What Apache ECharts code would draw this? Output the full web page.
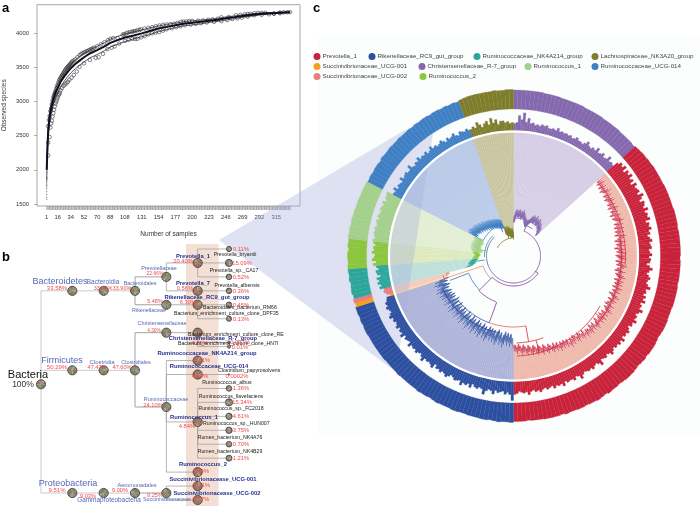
<!DOCTYPE html>
<html><head><meta charset="utf-8">
<style>html,body{margin:0;padding:0;background:#fff}#c{width:700px;height:506px}</style>
<script src="https://cdn.jsdelivr.net/npm/echarts@6/dist/echarts.min.js"></script>
</head><body><div id="c"></div>
<script>
// ---------- panel a : rarefaction curve ----------
const curveSamples=[1,2,3,4,5,6,8,10,13,16,20,25,30,34,40,46,52,60,70,80,88,98,108,120,131,142,154,165,177,188,200,212,223,235,246,258,269,280,292,304,315,325,334];
const curveMedian=[2000,2330,2560,2690,2780,2850,2950,3030,3130,3200,3290,3370,3440,3490,3550,3600,3650,3705,3755,3810,3860,3900,3940,3970,4000,4035,4070,4095,4120,4140,4155,4170,4185,4200,4220,4238,4255,4270,4285,4295,4300,4305,4310];
const curveUpper=[2150,2420,2640,2760,2840,2920,3010,3100,3190,3260,3350,3430,3500,3550,3610,3660,3710,3760,3810,3865,3915,3955,3990,4025,4050,4080,4110,4130,4150,4170,4185,4195,4205,4220,4240,4255,4272,4285,4298,4305,4308,4312,4315];
const curveLower=[1850,2240,2470,2610,2710,2780,2880,2960,3060,3130,3220,3300,3370,3420,3480,3530,3580,3640,3690,3745,3800,3840,3880,3920,3950,3985,4025,4055,4085,4110,4125,4140,4160,4175,4195,4215,4235,4250,4270,4280,4290,4298,4305];
const upperCircles=[[3,2640],[4,2730],[5,2790],[6,2860],[7,2900],[8,2960],[9,3010],[10,3060],[11,3090],[12,3120],[13,3150],[14,3190],[15,3220],[16,3250],[17,3280],[18,3310],[19,3330],[20,3350],[21,3370],[22,3385],[23,3400],[24,3420],[25,3440],[26,3455],[27,3470],[28,3490],[29,3500],[30,3510],[31,3525],[32,3535],[33,3550],[34,3560],[35,3575],[36,3590],[38,3600],[40,3620],[43,3650],[46,3680],[48,3695],[50,3710],[52,3720],[54,3730],[56,3740],[58,3750],[60,3760],[62,3770],[64,3780],[66,3790],[70,3810],[75,3840],[80,3870],[85,3900],[88,3920],[92,3930],[98,3930],[105,3980],[107,3990],[110,4000],[112,4010],[115,4020],[118,4025],[120,4030],[122,4035],[125,4045],[128,4050],[130,4060],[135,4070],[140,4080],[145,4090],[150,4105],[155,4115],[160,4125],[165,4130],[170,4135],[175,4140],[180,4155],[185,4170],[188,4172],[192,4175],[196,4180],[200,4185],[208,4185],[215,4190],[222,4200],[228,4205],[235,4215],[240,4235],[250,4240],[260,4265],[266,4270],[272,4280],[276,4282],[280,4285],[285,4295],[290,4300],[295,4300],[300,4300],[312,4290],[320,4305],[325,4308],[330,4310],[334,4312]];
const lowerCircles=[[3,2210],[3,2400],[5,2480],[6,2620],[7,2680],[8,2720],[9,2780],[10,2830],[11,2880],[12,2930],[13,2970],[14,3000],[15,3030],[16,3060],[17,3090],[18,3110],[19,3130],[20,3165],[22,3200],[24,3230],[26,3250],[28,3270],[30,3290],[32,3320],[35,3350],[38,3390],[42,3440],[46,3510],[52,3560],[60,3610],[68,3640],[72,3650],[78,3700],[84,3770],[90,3790],[94,3810],[100,3850],[108,3890],[113,3905],[118,3920],[122,3918],[125,3920],[130,3940],[135,3960],[140,3985],[145,4000],[150,4010],[155,4020],[160,4040],[165,4060],[172,4075],[178,4090],[184,4105],[190,4120],[198,4130],[205,4140],[212,4150],[220,4160],[230,4170],[240,4180],[248,4195],[255,4210],[262,4220],[268,4230],[276,4245],[285,4265],[295,4272],[305,4280],[312,4288],[320,4295]];
const firstSampleDots=[[1,1570],[1,1600],[1,1640],[1,1680],[1,1720],[1,1750],[1,1770],[1,1790],[1,1810],[1,1830],[1,1850],[1,1870],[1,1890],[1,1960],[1,2010],[1,2100],[1,2120],[1,2140],[1,2160],[1,2180]];
const xTickLabels=[1,16,34,52,70,88,108,131,154,177,200,223,246,269,292,315];
const yTickLabels=[1500,2000,2500,3000,3500,4000];
const rugSamples=Array.from({length:334},(_,i)=>i+1);

// ---------- panel b : taxonomy tree ----------
const nodeNames=['Bacteria','Bacteroidetes','Bacteroidia','Bacteroidales','Prevotellaceae','Rikenellaceae','Prevotella_1','Prevotella_7','Rikenellaceae_RC9','sp1','sp2','sp3','sp4','sp5','sp6','Firmicutes','Clostridia','Clostridiales','Christensenellaceae','Ruminococcaceae','Christensenellaceae_R-7','sp7','sp8','NK4A214','UCG-014','sp9','Ruminococcus_1','sp10','sp11','sp12','sp13','sp14','sp15','Ruminococcus_2','Proteobacteria','Gammaproteobacteria','Aeromonadales','Succinivibrionaceae','UCG-001','UCG-002'];
const nodeDepth=[0,1,2,3,4,4,5,5,5,6,6,6,6,6,6,1,2,3,4,4,5,6,6,5,5,6,5,6,6,6,6,6,6,5,1,2,3,4,5,5];
const nodeRow=[9.7,3,3,3,2,4,1,3,4,0,1,2,3,4,5,8.7,8.7,8.7,6,11.33,6,6.7,7,8,9,9,12.4,10,11,12,13,14,15,16,17.5,17.5,17.5,17.5,17,18];
const nodeParent=[-1,0,1,2,3,3,4,4,5,6,6,6,7,8,8,0,15,16,17,17,18,20,20,19,19,24,19,26,26,26,26,26,26,19,0,34,35,36,37,37];
const nodeSize=[4.6,4.6,4.6,4.6,4.6,4.6,4.6,4.6,4.6,2.6,3.6,2.8,2.8,2.8,2.6,4.6,4.6,4.6,4.6,4.6,4.6,1.3,1.6,4.6,4.6,0.7,4.6,2.8,3.6,3.2,3.2,2.8,3,4.6,4.6,4.6,4.6,4.6,4.6,4.6];
const pieShares=[28,22,18,14,10,8];
const pieColors=['#8f7a5c','#6e9a6c','#a8705f','#7b8aa0','#a6a56e','#6f6f6f'];

// ---------- panel c : circular tree ----------
const outerPurple=[19,19,19,19,19,19,19,18.5,18.5,18.5,18.5,18,18,18,18,18,18,17.5,17.5,17.5,17.5,17.5,17,17,17,17,17,16.5,16.5,16.5,16.5,16];
const outerRed=[17,17.5,18,18,18.5,18.5,19,19,19,19,19,19.5,19.5,19.5,19.5,19.5,19.5,20,20,20,20,19.5,20,20,20,20,20,20,19.5,20,20,20,20,20,19.5,20,20,20,20,20,19.5,19.5,19.5,20,20,20,19.5,19,19.5,20,20,20,19.5,20,19.5,19,19.5,20,20,20,19.5,19,19.5,19.5,20,19,19.5,20,19.5,19.5,19,19.5,19.5,19,19,19.5,18.5,19,19,19,19,18.5,18.5,18.5,18,18.5,18.5,18.5];
const outerBlue=[19.5,19,19,19.5,19,18.5,19,19,18.5,18.5,18.5,18,18,18.5,18.5,18,18,18,18.5,18,17.5,18,18,18.5,18,18,18,18,18,18.5,18,18,18,18,18.5,18.5,18.5,18.5,18.5,18.5,18.5,19,19,18.5,19,18.5,19,19];
const outerOrange=[18];
const outerPink=[19];
const outerTeal=[18,19,18.5,18,19,18.5,19];
const outerGreen=[19,18.5,19,19,18,19,18.5];
const outerLight=[19.5,19,19,18.5,19,18.5,18.5,18,18,18,17.5,17.5,17.5,17.5];
const outerSky=[16.5,17,16.5,17,17,16.5,17.5,17,17,17.5,17,17,17.5,17,17,17.5,17,17.5,17,17.5,17.5,17,17.5,17.5,17,17.5,17,17.5,17];
const outerOlive=[18,18.5,19,19,19,19,19,19,19.5,19,19,19.5,19.5];
const innerPurple=[7,8,15,11,18,9,13,8,9,7,8,7,9,8,9,7,7,8,7,10,7,8,7,8,7,8,6,7,9,7,7,6,8,11,8,7,9,8,12,8,9,11,8,9,13,9,10,9];
const innerRed=[14,17,15,18,13,17,15,18,14,16,12,17,14,15,16,13,18,15,12,16,15,13,17,13,15,14,16,11,14,13,15,12,13,10,12,14,11,12,13,10,11,13,10,12,11,8,11,14,11,9,11,13,11,10,12,15,11,12,10,13,11,14,10,12,11,15,12,10,12,11,14,11,12,9,11,13,11,12,10,14,11,13,11,12,10,12,14,11,10,12,11,10,15,12,10,11,13,11,12,11,10,12,15,11,10,13,11,11,12,10,14,11,12,11,13,10,11,12,10,11,13,11,12,10,11,14,11,12,11,10,12,13];
const innerBlue=[19,13,11,13,10,11,12,10,14,11,10,12,16,11,10,12,11,9,13,10,12,11,14,10,11,12,10,9,11,13,11,10,12,10,11,8,13,11,10,11,10,14,11,9,10,12,10,11,10,13,9,10,11,9,13,10,11,9,12,10,9,11,10,13,11,9,10,12,10,11,9,8];
const innerOrange=[4];
const innerPink=[7,9,8];
const innerTeal=[12,10,13,11,13,9,12,13,10,12];
const innerGreen=[15,12,16,14,13,16,14,15,13,15];
const innerLight=[16,14,15,16,15,16,14,15,16,14,16,15,14,16,15,14,16,13,15,15,16];
const innerSky=[10,9,12,8,10,9,8,12,9,10,11,9,9,13,9,8,10,9,12,9,10,9,11,8,9,12,9,10,8,9,11,9,7,10,8,9,11,8,7,10,9,8,10,8];
const innerOlive=[8,10,8,13,10,7,10,12,8,14,9,12,7,10,10,8,9,7,8];
const tipPurple=[40,41,44,46,47,46,45,46,47,46,44,46,45,47,45,44,42,41,40,39,38,38,39,40,41,43,45,44,46,45,44,46,47,44,45,44,46,45,44,43,42,43,41,40,40,38,37,36];
const tipRed=[118,116,118,115,117,114,116,118,114,116,113,115,116,113,115,112,116,113,114,111,115,112,114,116,112,114,111,114,111,113,110,114,112,109,113,110,112,108,112,110,113,109,111,113,109,112,110,114,111,109,113,110,112,114,110,113,111,113,110,114,111,113,109,112,114,110,113,111,109,113,110,112,114,110,112,109,113,110,112,108,111,113,109,111,108,112,110,109,111,107,110,108,106,109,107,105,108,106,109,105,107,104,106,104,107,103,105,102,105,103,101,104,102,100,103,101,99,102,100,98,101,99,97,100,98,96,99,97,95,98,96,95];
const tipBlue=[92,88,91,87,90,86,89,92,87,90,85,88,91,86,89,85,88,84,87,90,85,88,83,86,89,84,87,82,85,88,83,86,81,85,88,82,85,80,84,87,82,85,80,83,86,81,84,79,83,86,80,84,78,82,85,80,83,79,84,81,85,80,83,86,81,84,79,82,85,80,83,78];
const tipOrange=[74];
const tipPink=[72,70,70];
const tipTeal=[50,47,46,44,46,45,43,44,42,41];
const tipGreen=[40,41,39,40,38,39,38,40,39,41];
const tipLight=[40,42,41,43,42,41,44,43,42,44,43,42,44,42,41,43,42,41,43,44,42];
const tipSky=[50,51,49,52,50,51,49,50,48,49,50,47,49,48,46,48,47,45,47,46,44,46,45,43,45,44,42,44,43,42,43,41,42,40,42,41,39,41,40,38,40,39,38,38];
const tipOlive=[30,31,29,30,28,29,31,28,30,27,29,28,26,28,27,26,28,26,24];
const treeArcs=[[27,23,315,'#7d62ab'],[30,125,225,'#8e4f9e'],[38,2,47,'#8469ae'],[33,20,35,'#8469ae'],[49,201,225,'#8e4f9e'],[48,225,249,'#3f86c8'],[71,200,231,'#3f66b0'],[71,170,200,'#e8746a'],[87,160,178,'#d9434f'],[78,190,245,'#2d4fa0'],[32,225,252,'#b08ab0'],[73,250,255,'#ea7d7d'],[29,268,315,'#2ba69a'],[34,297,336,'#3f7fc4'],[18,297,355,'#7d7d2b'],[100,120,178,'#d9434f'],[108,80,130,'#d9434f'],[112,50,95,'#d9434f'],[124.5,0,360,'#ffffff']];
const treeSpokes=[[225,30,49,'#8e4f9e'],[200,49,71,'#8e4f9e'],[23,27,38,'#8469ae'],[125,26,30,'#8e4f9e'],[170,71,87,'#d9434f'],[231,71,78,'#2d4fa0'],[252,32,73,'#f0a060'],[249,48,68,'#3f86c8'],[262,29,40,'#2ba69a'],[297,34,42,'#3f7fc4'],[336,26,34,'#3f7fc4'],[280,27,33,'#8cc63f'],[345,18,22,'#7d7d2b'],[165,87,100,'#d9434f'],[125,100,108,'#d9434f'],[90,108,112,'#d9434f']];

// ---------- assembled ----------
const clades=[
 {legend:'Christensenellaceae_R-7_group',c:'#8469ae',fan:'#d5cde5',outer:outerPurple,inner:innerPurple,tip:tipPurple,d:6},
 {legend:'Prevotella_1',c:'#c8233a',fan:'#eeb9ab',outer:outerRed,inner:innerRed,tip:tipRed,d:6},
 {legend:'Rikenellaceae_RC9_gut_group',c:'#2d4fa0',fan:'#adb3d9',outer:outerBlue,inner:innerBlue,tip:tipBlue,d:9},
 {legend:'Succinivibrionaceae_UCG-001',c:'#f5a11e',fan:'#fbdca0',outer:outerOrange,inner:innerOrange,tip:tipOrange,d:2},
 {legend:'Succinivibrionaceae_UCG-002',c:'#ea7d7d',fan:'#f6c9bd',outer:outerPink,inner:innerPink,tip:tipPink,d:3},
 {legend:'Ruminococcaceae_NK4A214_group',c:'#2ba69a',fan:'#bcdfd8',outer:outerTeal,inner:innerTeal,tip:tipTeal,d:5},
 {legend:'Ruminococcus_2',c:'#8cc63f',fan:'#dde9bd',outer:outerGreen,inner:innerGreen,tip:tipGreen,d:4},
 {legend:'Ruminococcus_1',c:'#a3d18c',fan:'#e2eed2',outer:outerLight,inner:innerLight,tip:tipLight,d:8},
 {legend:'Ruminococcaceae_UCG-014',c:'#3f7fc4',fan:'#b8c9e8',outer:outerSky,inner:innerSky,tip:tipSky,d:8},
 {legend:'Lachnospiraceae_NK3A20_group',c:'#7d7d2b',fan:'#c8c4a0',outer:outerOlive,inner:innerOlive,tip:tipOlive,d:7}
];
const legendAt=[['Prevotella_1',313.5,53],['Rikenellaceae_RC9_gut_group',368.5,53],['Ruminococcaceae_NK4A214_group',473.5,53],['Lachnospiraceae_NK3A20_group',591.5,53],['Succinivibrionaceae_UCG-001',313.5,63],['Christensenellaceae_R-7_group',418.5,63],['Ruminococcus_1',524.5,63],['Ruminococcaceae_UCG-014',591.5,63],['Succinivibrionaceae_UCG-002',313.5,73],['Ruminococcus_2',419.5,73]];
const C=[513.5,256];
const series=[];
// panel a
series.push({type:'line',xAxisIndex:0,yAxisIndex:0,data:curveSamples.map((s,i)=>[s,curveUpper[i]]),showSymbol:false,lineStyle:{color:'#444',width:.9},z:3});
series.push({type:'line',xAxisIndex:0,yAxisIndex:0,data:curveSamples.map((s,i)=>[s,curveLower[i]]),showSymbol:false,lineStyle:{color:'#444',width:.9},z:3});
series.push({type:'scatter',xAxisIndex:0,yAxisIndex:0,data:upperCircles.concat(lowerCircles),symbolSize:3.6,itemStyle:{color:'rgba(255,255,255,0)',borderColor:'#2a2a2a',borderWidth:.7},z:4});
series.push({type:'scatter',xAxisIndex:0,yAxisIndex:0,data:firstSampleDots,symbolSize:1.2,itemStyle:{color:'#444'},z:4});
series.push({type:'line',xAxisIndex:0,yAxisIndex:0,data:curveSamples.map((s,i)=>[s,curveMedian[i]]),showSymbol:false,lineStyle:{color:'#0a1020',width:2},z:5});
// panel b
series.push({type:'custom',xAxisIndex:1,yAxisIndex:1,clip:false,z:5,
 data:nodeDepth.map((d,i)=>[d,nodeRow[i]]),
 renderItem(p,api){const i=p.dataIndex,par=nodeParent[i];if(par<0)return{type:'group',children:[]};
  const a=api.coord([nodeDepth[par],nodeRow[par]]),b=api.coord([nodeDepth[par],nodeRow[i]]),c=api.coord([nodeDepth[i],nodeRow[i]]);
  return{type:'polyline',shape:{points:[a,b,c]},style:{fill:'none',stroke:nodeDepth[i]>=4?'#a2a2a2':'#cbcbcb',lineWidth:nodeDepth[i]>=5?.8:1}};}});
series.push({type:'custom',xAxisIndex:1,yAxisIndex:1,clip:false,z:6,
 data:nodeDepth.map((d,i)=>[d,nodeRow[i]]),
 renderItem(p,api){const i=p.dataIndex,[x,y]=api.coord([nodeDepth[i],nodeRow[i]]),r=nodeSize[i];const kids=[];let s=(i*47)%360*Math.PI/180;
  const genus=nodeDepth[i]==5;
  pieShares.forEach((sh,k)=>{const e=s+sh/100*2*Math.PI;kids.push({type:'sector',shape:{cx:x,cy:y,r:r,r0:0,startAngle:s,endAngle:e},style:{fill:(genus&&k%2==1)?'#a0705c':pieColors[k]}});s=e;});
  kids.push({type:'circle',shape:{cx:x,cy:y,r:r},style:{fill:'none',stroke:'#3a3a3a',lineWidth:.8}});
  return{type:'group',children:kids};}});
// ring bars: each datum is [height, angle start]; drawn through the polar scale
function ringSeries(name,polarIndex,vals,start,step,color,z,base){
 return {type:'custom',name,coordinateSystem:'polar',polarIndex,clip:false,z,silent:true,itemStyle:{color},
  encode:{radius:0,angle:1},data:vals.map((v,i)=>[v,start+i*step]),
  renderItem(p,api){const i=p.dataIndex,a0=start+i*step,a1=a0+step,v=vals[i],b=base?base[i]:0;
   const pts=[[b,a0],[b,a1],[v,a1],[v,a0]].map(q=>api.coord(q));
   return{type:'polygon',shape:{points:pts},style:{fill:color,stroke:color,lineWidth:.3}};}};
}
let st=0;
clades.forEach(k=>{series.push(ringSeries('fan '+k.legend,2,k.tip.map(()=>124),st,1,k.fan,1,k.tip));st+=k.tip.length;});
st=0;
clades.forEach(k=>{series.push(ringSeries('inner '+k.legend,0,k.inner,st,1,k.c,3));st+=k.inner.length;});
st=0;
clades.forEach(k=>{series.push(ringSeries(k.legend,1,k.outer,st,1.5,k.c,3));st+=k.outer.length*1.5;});
// tree
const treeEdges=[];
treeArcs.forEach(([r,a0,a1,col])=>{const pts=[];for(let a=a0;a<a1;a+=2)pts.push([r,a]);pts.push([r,a1]);treeEdges.push({pts,col,w:col=='#ffffff'?2.2:.9});});
treeSpokes.forEach(([a,r0,r1,col])=>treeEdges.push({pts:[[r0,a],[r1,a]],col,w:.9}));
st=0;
clades.forEach(k=>{const pts=[],pts2=[];k.tip.forEach((t,i)=>{pts.push([t,st+i+.5],[t-k.d,st+i+1]);pts2.push([t-k.d*.5,st+i+.2],[t-k.d-1,st+i+.7]);});treeEdges.push({pts,col:k.c,w:.6},{pts:pts2,col:k.c,w:.5});st+=k.tip.length;});
series.push({type:'custom',coordinateSystem:'polar',polarIndex:3,clip:false,z:4,silent:true,
 data:treeEdges.map(e=>e.pts[0]),encode:{radius:0,angle:1},
 renderItem(p,api){const e=treeEdges[p.dataIndex];return{type:'polyline',shape:{points:e.pts.map(q=>api.coord(q))},style:{fill:'none',stroke:e.col,lineWidth:e.w}};}});

const blue='#5468b6',navy='#24308e',red='#ef4a4f',blk='#222';
// [text, x, y, size, colour, align, bold]
const bLabels=[
['Bacteroidetes',60,282,9,blue],['33.58%',57,288,6,red],['Bacteroidia',103,282,6.5,blue],['33.90%',103,288,5.5,red],['Bacteroidales',140,284,5.4,blue],['33.90%',122,288,5.5,red],
['Prevotellaceae',159,269,5.4,blue],['22.66%',155,274,5,red],['Rikenellaceae',149,311,5.4,blue],['5.48%',155,301,5.5,red],
['Prevotella_1',193,256,5.8,navy,'center',1],['20.40%',183,261,5.8,red],['Prevotella_7',193,283,5.8,navy,'center',1],['0.56%',185,288,5.8,red],
['Rikenellaceae_RC9_gut_group',207,297,5.8,navy,'center',1],['6.30%',188,302,5.8,red],
['0.11%',241,249,5.8,red],['Prevotella_bryantii',235,255,5.2,blk],['15.09%',242,263,5.8,red],['Prevotella_sp._CA17',234,271,5.2,blk],['0.52%',241,277,5.8,red],['Prevotella_albensis',237,286,5.2,blk],['0.36%',241,291,5.8,red],['0.45%',241,305,5.8,red],
['Bacteroidales_bacterium_RM66',203,308,5.2,blk,'left'],['Bacterium_enrichment_culture_clone_DPF35',174,314,5.2,blk,'left'],['0.13%',241,319,5.8,red],
['Christensenellaceae',162,324,5.4,blue],['4.30%',154,331,4.8,red],['Bacterium_enrichment_culture_clone_RE',188,335,5.2,blk,'left'],['4.89%',200,343,5.8,red],['Christensenellaceae_R-7_group',213,338,5.8,navy,'center',1],['Bacterium_enrichment_culture_clone_HN7I',178,344,5.2,blk,'left'],['0.007%',240,342,5.8,red],['0.01%',240,347,5.8,red],
['Ruminococcaceae_NK4A214_group',207,353,5.8,navy,'center',1],['5.91%',202,360,5.8,red],['Ruminococcaceae_UCG-014',209,366,5.8,navy,'center',1],['4.43%',200,376,5.8,red],['Clostridium_papyrosolvens',218,371,5.2,blk,'left'],['0.0002%',237,376,5.8,red],
['Firmicutes',62,361,9,blue],['50.29%',57,367,6,red],['Clostridia',102,362,6,blue],['47.47%',97,367,5.6,red],['Clostridiales',136,363,5.4,blue],['47.60%',122,367,5.6,red],
['Bacteria',28,375,11,'#111'],['100%',23,385,8.5,'#333'],
['Ruminococcaceae',166,400,5.4,blue],['24.10%',153,405,5.8,red],['Ruminococcus_1',194,417,5.8,navy,'center',1],['4.84%',187,426,5.8,red],
['Ruminococcus_albus',227,383,5.2,blk],['1.36%',241,388,5.8,red],['Ruminococcus_flavefaciens',231,397,5.2,blk],['15.34%',242,402,5.8,red],['Ruminococcus_sp._FC2018',231,409,5.2,blk],['4.61%',241,416,5.8,red],['Ruminococcus_sp._HUN007',203,424,5.2,blk,'left'],['3.75%',241,430,5.8,red],['Rumen_bacterium_NK4A76',230,438,5.2,blk],['0.70%',241,444,5.8,red],['Rumen_bacterium_NK4B29',230,452,5.2,blk],['1.21%',241,458,5.8,red],
['Ruminococcus_2',203,464,5.8,navy,'center',1],['3.44%',201,471,5.8,red],['Succinivibrionacease_UCG-001',213,479,5.8,navy,'center',1],['5.11%',202,485,5.8,red],['Succinivibrionacease_UCG-002',217,493,5.8,navy,'center',1],['4.97%',201,499,5.8,red],
['Proteobacteria',68,484,9,blue],['9.51%',57,490,6,red],['Gammaproteobacteria',109,500,6.4,blue],['9.03%',88,496,5.6,red],['Aeromonadales',137,485,5.6,blue],['9.00%',120,490,5.6,red],['Succinivibrionaceae',167,500,5.4,blue],['9.25%',155,495,5.6,red]
];
const F='"Liberation Sans",Arial,sans-serif';
const graphics=[
 {type:'rect',z:-2,silent:true,shape:{x:318,y:35,width:382,height:402},style:{fill:'#fcfdfd'}},
 {type:'rect',z:0,silent:true,shape:{x:186,y:244,width:32.5,height:262},style:{fill:'#f3dfd3'}},
 {type:'polygon',z:2,silent:true,shape:{points:[[219,240],[405,130],[433,133],[396,372]]},style:{fill:'rgba(168,175,220,0.37)'}},
 {type:'text',z:20,style:{text:'a',x:2,y:2,font:'bold 13px '+F,fill:'#000'}},
 {type:'text',z:20,style:{text:'b',x:2,y:251,font:'bold 13px '+F,fill:'#000'}},
 {type:'text',z:20,style:{text:'c',x:313,y:2,font:'bold 13px '+F,fill:'#000'}}
];
bLabels.forEach(([t,x,y,s,c,al,b])=>graphics.push({type:'text',z:20,silent:true,style:{text:t,x,y,font:(b?'bold ':'')+s+'px '+F,fill:c,textAlign:al||'center',textVerticalAlign:'middle'}}));

const hid={show:false};
const valAngle=i=>({polarIndex:i,type:'value',min:0,max:360,startAngle:90,show:false});
const option={
 animation:false,backgroundColor:'#fff',textStyle:{fontFamily:F},
 grid:[{left:35.5,top:4.7,width:264.5,height:201.3,show:true,borderColor:'#a8a8a8',borderWidth:1,backgroundColor:'rgba(0,0,0,0)'},
       {left:41,top:249,width:188,height:251}],
 xAxis:[{type:'value',gridIndex:0,min:-12.3,max:347.5,splitLine:hid,axisLine:{show:false,onZero:false},
   name:'Number of samples',nameLocation:'middle',nameGap:25,nameTextStyle:{fontSize:6.5,color:'#333',fontFamily:F},
   axisTick:{show:true,length:4,customValues:rugSamples,lineStyle:{color:'#8a8a8a',width:.5}},
   axisLabel:{customValues:xTickLabels,fontSize:5.8,color:'#333',margin:8,fontFamily:F,formatter:v=>String(v)}},
  {type:'value',gridIndex:1,min:0,max:6,show:false}],
 yAxis:[{type:'value',gridIndex:0,min:1470,max:4420,splitLine:hid,axisLine:{show:false,onZero:false},
   name:'Observed species',nameLocation:'middle',nameGap:29,nameRotate:90,nameTextStyle:{fontSize:6.5,color:'#333',fontFamily:F},
   axisTick:{show:true,length:3,customValues:yTickLabels,lineStyle:{color:'#777',width:.6}},
   axisLabel:{customValues:yTickLabels,fontSize:5.8,color:'#333',margin:8,fontFamily:F,formatter:v=>String(v)}},
  {type:'value',gridIndex:1,min:0,max:18,inverse:true,show:false}],
 polar:[{center:C,radius:[125.5,146.5]},{center:C,radius:[147,167]},{center:C,radius:[0,124]},{center:C,radius:[0,126]}],
 angleAxis:[valAngle(0),valAngle(1),valAngle(2),valAngle(3)],
 radiusAxis:[
  {polarIndex:0,type:'value',min:0,max:21,show:false},
  {polarIndex:1,type:'value',min:0,max:20,show:false},
  {polarIndex:2,type:'value',min:0,max:124,show:false},
  {polarIndex:3,type:'value',min:0,max:126,show:false}],
 legend:legendAt.map(([n,x,y])=>({left:x,top:y,padding:0,data:[n],icon:'circle',itemWidth:7,itemHeight:7,selectedMode:false,textStyle:{fontSize:6.2,color:'#444',padding:[0,0,0,-3]}})),
 graphic:{elements:graphics},
 series
};
const chart=echarts.init(document.getElementById('c'),null,{renderer:'canvas'});
chart.setOption(option);
</script></body></html>
